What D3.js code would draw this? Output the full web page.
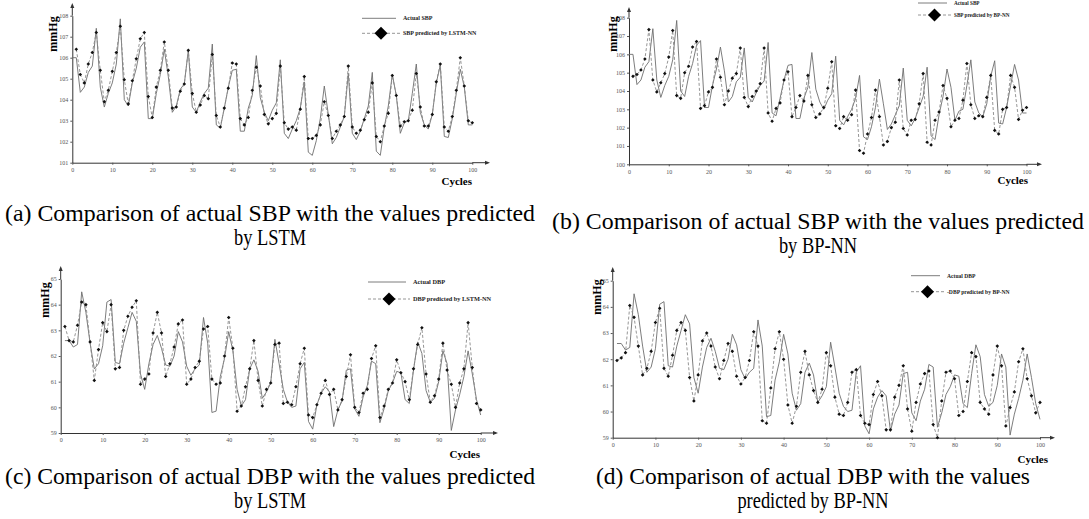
<!DOCTYPE html>
<html><head><meta charset="utf-8">
<script src="https://cdn.jsdelivr.net/npm/d3@7"></script>
<style>body{margin:0;background:#fff}svg{display:block}</style>
</head><body>
<script>
// ---------- DATA ----------
const xTicks = [0,10,20,30,40,50,60,70,80,90,100];
const sbpTicksA = [101,102,103,104,105,106,107,108];
const sbpTicksB = [100,101,102,103,104,105,106,107,108];
const dbpTicks = [59,60,61,62,63,64,65];

// actual SBP, cycles 0..100
const actualSBP = [106.0,106.0,104.35,104.6,105.3,105.6,107.4,104.6,103.65,104.3,104.8,105.7,107.85,104.0,103.7,104.8,105.5,106.5,106.75,103.1,103.1,104.3,105.2,106.4,105.1,103.4,103.7,104.5,104.75,106.35,103.65,103.4,103.9,104.3,104.55,106.65,102.8,102.65,103.6,104.6,105.4,105.45,102.5,102.5,103.6,104.2,106.1,104.1,103.4,103.0,103.5,103.85,105.9,102.4,102.15,102.6,103.0,103.6,104.85,101.5,101.35,102.05,103.1,104.65,103.3,101.9,102.2,102.7,103.2,105.25,102.4,102.1,102.5,103.1,103.7,105.3,101.55,101.35,102.7,103.7,105.2,104.2,102.4,102.9,103.0,104.3,105.7,103.4,102.8,102.6,103.3,104.8,105.65,102.25,102.2,103.1,104.3,105.45,104.6,102.8,102.8];
// LSTM predicted SBP, cycles 1..100
const lstmSBP = [106.4,105.2,104.8,105.7,106.25,107.2,105.4,103.9,104.45,105.35,106.25,107.5,104.95,103.8,104.9,105.95,106.9,107.2,104.15,103.15,104.6,105.4,106.75,105.4,103.6,103.65,104.4,104.75,106.35,104.3,103.4,103.75,104.2,104.05,106.15,103.25,102.7,103.6,104.55,105.75,105.7,103.1,102.8,103.15,104.45,105.55,104.65,103.3,102.85,103.1,103.35,105.6,102.9,102.6,102.7,102.55,103.55,105.1,102.15,102.15,102.3,102.8,103.9,103.25,102.15,102.5,102.8,103.2,105.6,102.7,102.4,102.55,103.05,103.4,104.8,102.25,102.0,102.75,103.35,105.15,104.2,102.75,102.95,103.0,103.5,105.25,103.65,102.75,102.75,103.3,104.85,105.7,102.7,102.5,103.2,104.45,106.0,104.65,103.0,102.9];
// BP-NN predicted SBP, cycles 1..100
const bpSBP = [104.8,104.9,105.15,105.75,107.35,104.6,103.95,104.45,104.95,105.85,107.3,103.75,103.6,105.0,105.35,106.4,106.7,103.05,103.2,103.95,104.2,105.75,104.75,103.25,104.0,104.7,104.95,106.35,103.65,103.15,103.7,104.0,104.4,106.35,102.8,102.35,103.05,103.35,104.6,105.05,102.6,103.1,103.75,103.45,104.85,103.25,102.55,102.75,103.1,104.15,105.6,102.1,101.95,102.6,102.4,102.7,104.05,100.75,100.6,101.65,102.55,104.05,102.6,101.05,101.25,102.0,102.3,104.6,101.95,101.6,102.4,102.45,103.3,104.95,101.2,101.05,102.4,102.85,104.3,103.6,102.05,102.4,102.5,103.5,105.5,103.25,102.5,102.65,102.6,103.65,104.85,101.85,101.65,103.0,103.1,104.85,104.2,102.45,102.95,103.1];
// actual DBP, cycles 1..100
const actualDBP = [62.6,62.6,62.35,62.45,64.5,63.7,62.5,61.5,61.7,62.4,64.1,64.2,61.75,61.7,62.5,63.1,63.7,63.35,61.3,60.7,61.7,62.45,62.8,62.3,61.65,61.6,62.0,62.95,62.55,61.6,61.25,61.5,61.65,63.5,62.5,59.8,59.85,61.2,61.9,62.95,62.2,60.7,60.05,60.3,61.5,61.85,61.4,60.35,60.6,60.95,62.65,61.7,60.7,60.2,60.0,60.05,61.5,61.75,59.45,59.15,60.1,60.55,60.8,60.6,59.25,59.9,60.25,61.45,61.5,59.95,59.65,60.4,60.85,61.8,61.7,59.4,59.95,60.65,60.95,61.4,61.35,60.3,60.15,61.45,62.55,62.1,60.65,60.2,60.35,61.0,62.2,61.7,59.1,59.9,60.5,61.2,62.2,61.3,60.3,59.7];
// LSTM predicted DBP, cycles 1..100
const lstmDBP = [63.15,62.6,62.55,63.2,64.1,64.0,62.55,61.05,62.25,63.3,62.95,64.0,61.5,61.55,63.0,63.55,63.9,64.15,60.9,61.1,61.3,62.9,63.7,62.9,61.2,61.7,62.35,63.25,63.4,60.9,61.1,61.55,61.8,63.05,63.15,61.1,60.9,60.95,62.0,63.5,62.3,59.85,60.05,60.8,61.5,62.6,61.05,60.05,60.7,60.95,62.45,62.5,60.15,60.2,60.1,60.8,61.7,62.3,59.7,59.6,60.1,60.55,61.05,60.5,60.7,59.9,60.3,61.2,62.05,60.0,59.8,60.55,60.7,61.9,62.4,59.6,60.05,60.7,60.95,61.85,61.35,61.0,60.3,61.5,62.45,63.1,61.3,60.2,60.45,61.1,62.5,61.45,60.9,60.0,60.95,61.5,63.3,61.55,60.15,59.9];
// BP-NN predicted DBP, cycles 1..100
const bpDBP = [61.95,62.05,62.25,64.05,63.6,62.5,61.4,61.65,62.3,63.4,63.95,61.65,61.35,62.15,63.1,63.4,63.1,61.3,60.4,61.4,62.7,63.0,62.5,61.7,61.25,61.95,62.6,62.3,61.35,61.05,61.3,61.95,63.05,62.5,59.65,59.55,60.9,62.4,63.05,62.0,60.25,59.55,60.2,61.5,62.3,61.4,60.8,60.35,60.85,62.25,61.75,60.55,59.9,59.85,60.35,61.5,61.6,59.85,59.55,59.5,60.65,61.15,60.6,59.3,59.3,60.55,61.0,61.75,60.1,59.25,60.35,61.05,61.45,61.55,59.5,59.0,60.4,61.5,61.55,61.25,59.85,60.0,61.15,62.25,62.1,60.35,60.1,59.9,61.4,62.5,61.75,59.45,60.15,60.75,61.9,62.4,61.25,60.6,59.95,60.35];

const captions = [
  {lines:["(a) Comparison of actual SBP with the values predicted","by LSTM"], cx:270, y:221, w:530},
  {lines:["(b) Comparison of actual SBP with the values predicted","by BP-NN"], cx:818, y:229, w:532},
  {lines:["(c) Comparison of actual DBP with the values predicted","by LSTM"], cx:270, y:484, w:530},
  {lines:["(d) Comparison of actual DBP with the values","predicted by BP-NN"], cx:813, y:484, w:434}
];

// ---------- DRAW ----------
const W = 1089, H = 519;
const svg = d3.select("body").append("svg").attr("width", W).attr("height", H)
  .style("font-family", "'Liberation Serif','Times New Roman',serif");

const panels = [
  {x0:72.3, x1:472.3, yT:15.7, yB:162.7, dom:[101,108], yt:sbpTicksA, act:actualSBP, actStart:0, pred:lstmSBP,
   leg:{x:362, y1:18.3, y2:33.3, t1:"Actual SBP", t2:"SBP predicted by LSTM-NN", fs:6, len:38},
   mm:{x:53, y:34}, cyc:{x:472, y:185}, arrowX:488, arrowY:5},
  {x0:629, x1:1026.5, yT:17.7, yB:164.3, dom:[100,108], yt:sbpTicksB, act:actualSBP, actStart:0, pred:bpSBP,
   leg:{x:918, y1:3, y2:15, t1:"Actual SBP", t2:"SBP predicted by BP-NN", fs:5.2, len:33},
   mm:{x:613, y:34}, cyc:{x:1028, y:184}, arrowX:1040, arrowY:9},
  {x0:60.7, x1:480.7, yT:279, yB:433, dom:[59,65], yt:dbpTicks, act:actualDBP, actStart:1, pred:lstmDBP,
   leg:{x:368, y1:282, y2:299, t1:"Actual DBP", t2:"DBP predicted by LSTM-NN", fs:6.3, len:42},
   mm:{x:45, y:300}, cyc:{x:480, y:458}, arrowX:496, arrowY:268},
  {x0:612.7, x1:1040, yT:280.7, yB:437.7, dom:[59,65], yt:dbpTicks, act:actualDBP, actStart:1, pred:bpDBP,
   leg:{x:911, y1:275.7, y2:291.7, t1:"Actual DBP", t2:"-DBP predicted by BP-NN", fs:5.6, len:33},
   mm:{x:597, y:297}, cyc:{x:1048, y:463}, arrowX:1053, arrowY:269}
];

panels.forEach(p => {
  const g = svg.append("g");
  const x = d3.scaleLinear().domain([0,100]).range([p.x0, p.x1]);
  const y = d3.scaleLinear().domain(p.dom).range([p.yB, p.yT]);

  // axes
  const ax = g.append("g").attr("transform", `translate(0,${p.yB})`)
    .call(d3.axisBottom(x).tickValues(xTicks).tickFormat(d3.format("d")).tickSize(2).tickSizeOuter(0).tickPadding(3));
  const ay = g.append("g").attr("transform", `translate(${p.x0},0)`)
    .call(d3.axisLeft(y).tickValues(p.yt).tickFormat(d3.format("d")).tickSize(2).tickSizeOuter(0).tickPadding(2));
  [ax, ay].forEach(a => {
    a.selectAll("text").style("font-size", "6px").attr("fill", "#555")
      .style("font-family", "'Liberation Serif',serif");
    a.selectAll("line").attr("stroke", "#555");
    a.select(".domain").attr("stroke", "#333");
  });
  // axis extensions with arrows
  g.append("line").attr("x1", p.x1).attr("x2", p.arrowX).attr("y1", p.yB).attr("y2", p.yB).attr("stroke", "#333");
  g.append("line").attr("x1", p.x0).attr("x2", p.x0).attr("y1", p.yT).attr("y2", p.arrowY).attr("stroke", "#333");
  g.append("path").attr("d", `M${p.arrowX+2},${p.yB} l-5,-2 l0,4 z`).attr("fill", "#333");
  g.append("path").attr("d", `M${p.x0},${p.arrowY-2} l-2,5 l4,0 z`).attr("fill", "#333");

  // actual (solid)
  const line = d3.line().x(d => x(d[0])).y(d => y(d[1]));
  const actPts = p.act.map((v,k) => [k + p.actStart, v]);
  g.append("path").datum(actPts).attr("d", line).attr("fill", "none")
    .attr("stroke", "#6e6e6e").attr("stroke-width", 0.9);
  // predicted (dashed + markers)
  const predPts = p.pred.map((v,k) => [k + 1, v]);
  g.append("path").datum(predPts).attr("d", line).attr("fill", "none")
    .attr("stroke", "#8a8a8a").attr("stroke-width", 0.9).attr("stroke-dasharray", "3,2");
  g.selectAll(".mk").data(predPts).enter().append("path")
    .attr("d", d => `M${x(d[0])},${y(d[1])-1.8} l1.8,1.8 l-1.8,1.8 l-1.8,-1.8 z`)
    .attr("fill", "#111");

  // legend
  const L = p.leg;
  g.append("line").attr("x1", L.x).attr("x2", L.x + L.len - 4).attr("y1", L.y1).attr("y2", L.y1)
    .attr("stroke", "#6e6e6e").attr("stroke-width", 0.9);
  g.append("line").attr("x1", L.x).attr("x2", L.x + L.len).attr("y1", L.y2).attr("y2", L.y2)
    .attr("stroke", "#8a8a8a").attr("stroke-width", 0.9).attr("stroke-dasharray", "3,2");
  const dcx = L.x + L.len/2, r = 6.5;
  g.append("path").attr("d", `M${dcx},${L.y2-r} L${dcx+r},${L.y2} L${dcx},${L.y2+r} L${dcx-r},${L.y2} Z`).attr("fill", "#000");
  g.append("text").attr("x", L.x + L.len + 3).attr("y", L.y1).attr("dy", "0.35em")
    .style("font-size", L.fs + "px").style("font-weight", "bold").attr("fill", "#222").text(L.t1);
  g.append("text").attr("x", L.x + L.len + 3).attr("y", L.y2).attr("dy", "0.35em")
    .style("font-size", L.fs + "px").style("font-weight", "bold").attr("fill", "#222").text(L.t2);

  // axis titles
  g.append("text").attr("transform", `translate(${p.mm.x},${p.mm.y}) rotate(-90)`)
    .attr("text-anchor", "middle").attr("dy", "0.35em")
    .style("font-size", "12px").style("font-weight", "bold").text("mmHg");
  g.append("text").attr("x", p.cyc.x).attr("y", p.cyc.y).attr("text-anchor", "end")
    .style("font-size", "11px").style("font-weight", "bold").text("Cycles");
});

// captions (condensed serif)
const sx = 0.8;
captions.forEach(c => {
  const cg = svg.append("g").attr("transform", `translate(${c.cx},${c.y}) scale(${sx},1)`);
  c.lines.forEach((t, i) => {
    const el = cg.append("text").attr("x", 0).attr("y", i * 24)
      .attr("text-anchor", "middle").style("font-size", "23px").attr("fill", "#000").text(t);
    if (i === 0) el.attr("textLength", c.w / sx).attr("lengthAdjust", "spacingAndGlyphs");
  });
});
</script>
</body></html>
